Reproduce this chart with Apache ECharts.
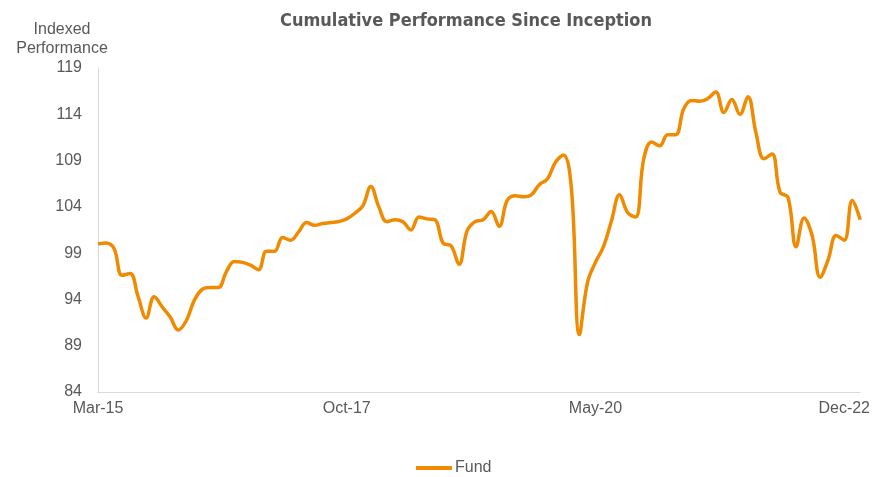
<!DOCTYPE html>
<html>
<head>
<meta charset="utf-8">
<script src="https://cdn.jsdelivr.net/npm/echarts@6/dist/echarts.min.js"></script>
<style>
html,body{margin:0;padding:0;background:#fff;}
#chart{width:873px;height:477px;}
</style>
</head>
<body>
<div id="chart"></div>
<script>
var months = [
 'Mar-15','Apr-15','May-15','Jun-15','Jul-15','Aug-15','Sep-15','Oct-15','Nov-15','Dec-15',
 'Jan-16','Feb-16','Mar-16','Apr-16','May-16','Jun-16','Jul-16','Aug-16','Sep-16','Oct-16','Nov-16','Dec-16',
 'Jan-17','Feb-17','Mar-17','Apr-17','May-17','Jun-17','Jul-17','Aug-17','Sep-17','Oct-17','Nov-17','Dec-17',
 'Jan-18','Feb-18','Mar-18','Apr-18','May-18','Jun-18','Jul-18','Aug-18','Sep-18','Oct-18','Nov-18','Dec-18',
 'Jan-19','Feb-19','Mar-19','Apr-19','May-19','Jun-19','Jul-19','Aug-19','Sep-19','Oct-19','Nov-19','Dec-19',
 'Jan-20','Feb-20','Mar-20','Apr-20','May-20','Jun-20','Jul-20','Aug-20','Sep-20','Oct-20','Nov-20','Dec-20',
 'Jan-21','Feb-21','Mar-21','Apr-21','May-21','Jun-21','Jul-21','Aug-21','Sep-21','Oct-21','Nov-21','Dec-21',
 'Jan-22','Feb-22','Mar-22','Apr-22','May-22','Jun-22','Jul-22','Aug-22','Sep-22','Oct-22','Nov-22','Dec-22',
 'Jan-23','Feb-23'
];
var fund = [
 100.0,100.1,99.5,96.6,96.8,94.3,92.0,94.3,93.2,92.1,
 90.7,91.7,93.9,95.1,95.3,95.3,97.0,98.1,98.0,97.7,97.2,99.2,
 99.2,100.7,100.4,101.3,102.3,102.0,102.2,102.3,102.4,102.7,103.3,104.1,
 106.2,104.0,102.4,102.6,102.4,101.5,102.9,102.7,102.6,100.1,99.8,97.8,
 101.4,102.4,102.6,103.5,101.9,104.7,105.2,105.1,105.3,106.4,107.0,108.8,
 109.6,106.0,90.2,95.8,98.0,99.7,102.5,105.3,103.4,102.9,109.1,111.0,
 110.6,111.8,111.8,114.6,115.5,115.4,115.7,116.4,114.2,115.6,114.0,115.9,
 112.0,109.2,109.7,105.6,105.0,99.7,102.8,100.9,96.4,98.3,100.9,100.4,
 104.7,102.6
];
var seriesName = 'Fund';
var chartTitle = 'Cumulative Performance Since Inception';
var yTitle = 'Indexed\nPerformance';

var chart = echarts.init(document.getElementById('chart'));
var grey = '#595959';
var font = 'Liberation Sans, Arial, sans-serif';
chart.setOption({
  animation: false,
  backgroundColor: '#fff',
  title: [{
    text: chartTitle,
    left: 461, top: 7, textAlign: 'center',
    textStyle: {fontFamily: 'Liberation Sans Narrow, DejaVu Sans Condensed, sans-serif', fontWeight: 'bold', fontSize: 18, color: grey}
  }, {
    text: yTitle,
    left: 57, top: 15, textAlign: 'center',
    textStyle: {fontFamily: font, fontWeight: 'normal', fontSize: 16, color: grey, lineHeight: 19}
  }],
  legend: {
    bottom: -4, left: 411,
    itemWidth: 36, itemHeight: 4, itemGap: 4,
    textStyle: {fontFamily: font, fontSize: 16, color: grey, padding: [0, 0, 0, -2]},
    data: [{name: seriesName, icon: 'rect'}]
  },
  grid: {left: 98, right: 9, top: 68, bottom: 85, containLabel: false},
  xAxis: {
    type: 'category', data: months, boundaryGap: false,
    axisLine: {lineStyle: {color: '#D9D9D9', width: 1}},
    axisTick: {show: false},
    axisLabel: {interval: 30, color: grey, fontSize: 16, fontFamily: font, margin: 9},
    splitLine: {show: false}
  },
  yAxis: {
    type: 'value', min: 84, max: 119, interval: 5,
    axisLine: {show: true, lineStyle: {color: '#D9D9D9', width: 1}},
    axisTick: {show: false},
    axisLabel: {color: grey, fontSize: 16, fontFamily: font, margin: 16},
    splitLine: {show: false}
  },
  series: [{
    name: seriesName, type: 'line', data: fund,
    smooth: 0.4, symbol: 'none',
    lineStyle: {color: '#F08A00', width: 3.5},
    itemStyle: {color: '#F08A00'}
  }]
});
</script>
</body>
</html>
